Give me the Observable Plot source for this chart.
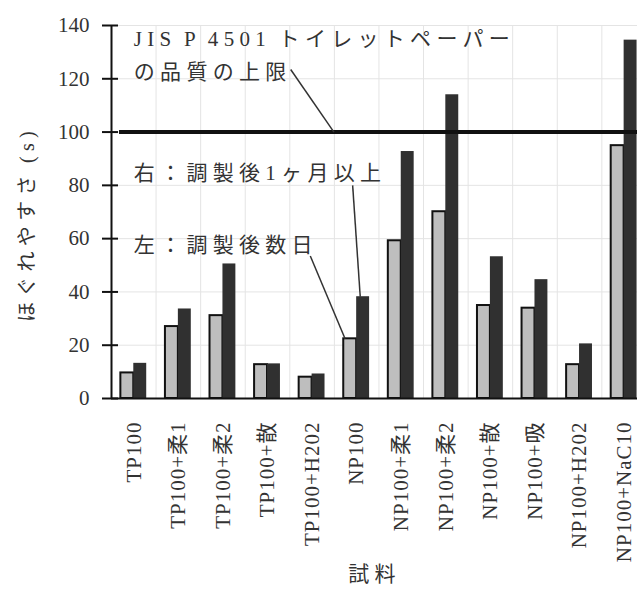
<!DOCTYPE html>
<html><head><meta charset="utf-8">
<script src="https://cdn.jsdelivr.net/npm/d3@7"></script>
<script src="https://cdn.jsdelivr.net/npm/@observablehq/plot@0.6"></script>
<style>
html,body{margin:0;padding:0;background:#fff;overflow:hidden;}
#chart g[aria-label="text"] text{letter-spacing:5.3px;word-spacing:-3px;}
#chart g[aria-label="x-axis tick label"] text{letter-spacing:1px;}
#chart g[aria-label="y-axis tick label"] text{font-variant-numeric:normal;font-family:"Liberation Serif","DejaVu Serif",serif;}
</style></head><body><div id="chart"></div>
<script>
// Categories (試料)
const categories = ["TP100","TP100+柔1","TP100+柔2","TP100+散","TP100+H202","NP100","NP100+柔1","NP100+柔2","NP100+散","NP100+吸","NP100+H202","NP100+NaC10"];
// 左：調製後数日
const leftValues = [9.6, 27.0, 31.1, 12.7, 8.0, 22.4, 59.2, 70.1, 34.9, 33.9, 12.7, 94.9];
// 右：調製後1ヶ月以上
const rightValues = [13.2, 33.6, 50.5, 13.0, 9.2, 38.2, 92.7, 114.0, 53.2, 44.6, 20.5, 134.5];
const yTicks = [0, 20, 40, 60, 80, 100, 120, 140];
const limit = 100; // JIS P 4501 上限
const yLabel = "ほぐれやすさ (s)";
const xLabel = "試料";
const notes = [
  {text: "JIS P 4501 トイレットペーパー", x: 0, y: 135},
  {text: "の品質の上限", x: 0, y: 122.5},
  {text: "右：調製後1ヶ月以上", x: 0, y: 84.5},
  {text: "左：調製後数日", x: 0, y: 57.5}
];
const leaders = [
  {x1: 3.52, y1: 123.5, x2: 4.49, y2: limit},
  {x1: 4.91, y1: 80, x2: 5.08, y2: rightValues[5]},
  {x1: 3.96, y1: 53.5, x2: 4.74, y2: leftValues[5]}
];

const barW = 0.29;
const idx = d3.range(categories.length);
const leftData = idx.map(i => ({i, v: leftValues[i]}));
const rightData = idx.map(i => ({i, v: rightValues[i]}));

const chart = Plot.plot({
  width: 637,
  height: 599,
  marginLeft: 111,
  marginRight: 0,
  marginTop: 25,
  marginBottom: 201,
  style: {fontFamily: '"Liberation Serif","Noto Sans CJK JP",serif', fontSize: "21px", color: "#333", background: "#fff"},
  x: {type: "linear", domain: [-0.5, 11.3]},
  y: {domain: [0, 140]},
  marks: [
    Plot.ruleY(yTicks.slice(1), {stroke: "#e4e4e4"}),
    Plot.ruleX(d3.range(0.5, 11.5), {stroke: "#e4e4e4"}),
    Plot.rectY(leftData, {x1: d => d.i - barW, x2: d => d.i, y: "v", fill: "#bebebe", stroke: "#111", strokeWidth: 2}),
    Plot.rectY(rightData, {x1: d => d.i, x2: d => d.i + barW, y: "v", fill: "#303030"}),
    Plot.ruleY([limit], {stroke: "#111", strokeWidth: 4, insetLeft: 8}),
    Plot.ruleX([-0.5], {stroke: "#111", strokeWidth: 2}),
    Plot.ruleY([0], {stroke: "#111", strokeWidth: 2}),
    Plot.axisY(yTicks, {anchor: "left", tickSize: 16, dx: 7, tickPadding: 13, stroke: "#111", strokeWidth: 2, fill: "#333", fontSize: 21, fontVariant: "normal", fontFamily: '"Liberation Serif",serif', label: null}),
    Plot.axisX(idx, {anchor: "bottom", tickFormat: i => categories[i], tickRotate: -90, tickSize: 0, tickPadding: 23, fill: "#333", fontSize: 21, label: null}),
    Plot.link(leaders, {x1: "x1", y1: "y1", x2: "x2", y2: "y2", stroke: "#333", strokeWidth: 1.5}),
    Plot.text(notes, {x: "x", y: "y", text: "text", textAnchor: "start", fontSize: 21, fill: "#333"}),
    Plot.text([xLabel], {text: d => d, frameAnchor: "bottom", dy: 182, fontSize: 21, fill: "#333"}),
    Plot.text([yLabel], {text: d => d, frameAnchor: "left", textAnchor: "middle", rotate: -90, dx: -84, dy: 12, fontSize: 20, fill: "#333"})
  ]
});
document.getElementById("chart").appendChild(chart);
</script>
</body></html>
